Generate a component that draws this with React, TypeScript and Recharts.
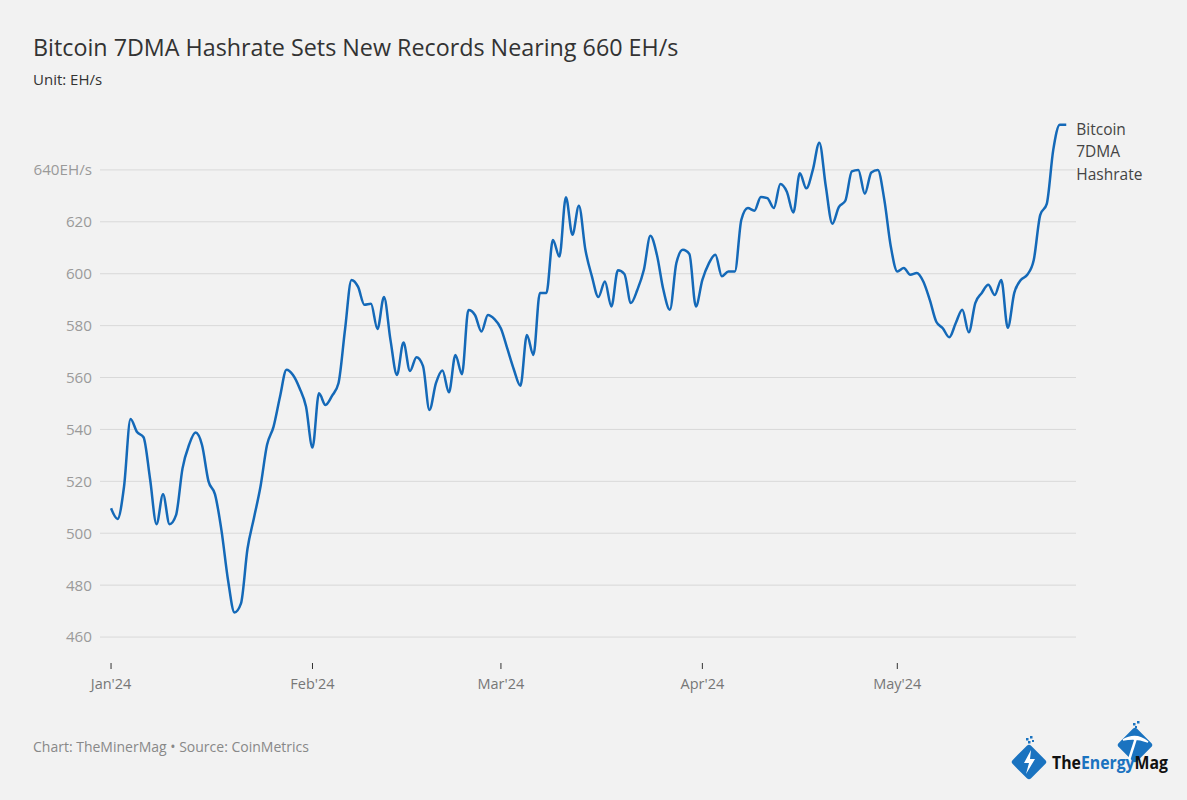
import React from 'react';
import { LineChart, Line, XAxis, YAxis, CartesianGrid } from 'recharts';

// Daily 7DMA hashrate (EH/s)
const JAN = [509.6, 505.5, 518, 544, 539, 537, 521, 503.5, 515, 503.5, 507, 525, 534, 538.8, 534, 520, 515, 501, 482, 469.5, 473, 494, 506, 518, 534, 541, 552.6, 563, 561, 556, 548.8];
const FEB = [533, 553.9, 549.4, 552.9, 557.8, 578.3, 597.6, 595, 588, 588.4, 578.7, 591, 574.5, 561, 573.5, 562.5, 567.8, 564.5, 547.5, 557.8, 562.7, 554.3, 568.7, 561.3, 586, 584.1, 577.7, 584.1, 582.5];
const MAR = [578.9, 571, 563, 556.8, 576.4, 568.7, 592.6, 592.6, 613, 606.6, 629.5, 615, 626.2, 609.2, 599, 591, 597, 587.4, 601.3, 599.9, 588.7, 593.8, 601.5, 614.6, 607.3, 593.8, 586.1, 604.1, 609.2, 607.6, 587.4];
const APR = [597.6, 604, 607.3, 599, 600.9, 600.9, 620.8, 625.3, 624.3, 629.6, 629.1, 625.3, 634.6, 631.6, 623.6, 638.7, 632.9, 640, 650.5, 633.6, 619.3, 625.7, 628.1, 639.4, 640, 630.8, 639, 640, 628.5, 610.5];
const MAY = [600.9, 602.2, 599.6, 600.3, 597, 589.9, 581.5, 579, 575.5, 581, 586.1, 577.4, 588.7, 592.6, 595.7, 591.8, 597.6, 579.2, 592.6, 597.6, 599.6, 605.3, 622.7, 626.9, 647.7, 657.4, 657.4];

const MONTH_LABELS = ["Jan'24", "Feb'24", "Mar'24", "Apr'24", "May'24"];
const MONTH_START_DAYS = [0, 31, 60, 91, 121];
const Y_TICKS = [460, 480, 500, 520, 540, 560, 580, 600, 620, 640];
const SERIES_NAME = ['Bitcoin', '7DMA', 'Hashrate'];

const values = [...JAN, ...FEB, ...MAR, ...APR, ...MAY];
const data = values.map((v, i) => ({ day: i, hashrate: v }));
const lastIndex = data.length - 1;

const FONT = '"Open Sans", "Noto Sans", sans-serif';
const BLUE = '#1469b8';

function EndLabel(props: any) {
  const { x, y, index } = props;
  if (index !== lastIndex) return null;
  return (
    <text x={x + 10} y={y + 10} fill="#444" fontSize={15.5} fontFamily={FONT}>
      {SERIES_NAME.map((w, i) => (
        <tspan key={w} x={x + 10} dy={i === 0 ? 0 : 22.5}>{w}</tspan>
      ))}
    </text>
  );
}

function Logo() {
  return (
    <svg width={175} height={70} style={{ position: 'absolute', left: 1005, top: 720 }}>
      {/* lightning diamond */}
      <rect x={11} y={29} width={26} height={26} rx={3} fill="#1a73c0" transform="rotate(45 24 42)" />
      <path d="M26 30 L19 43 L24 43 L21 54 L30 39 L25 39 Z" fill="#fff" />
      <rect x={21} y={18} width={2.5} height={2.5} fill="#1a73c0" />
      <rect x={25} y={16} width={2.5} height={2.5} fill="#1a73c0" />
      <rect x={23} y={21} width={2.5} height={2.5} fill="#1a73c0" />
      <rect x={27} y={20} width={2} height={2} fill="#1a73c0" />
      {/* pickaxe diamond */}
      <rect x={117} y={12} width={26} height={26} rx={3} fill="#1a73c0" transform="rotate(45 130 25)" />
      <path d="M118 20 Q131 12 143 22 Q131 17 118 20 Z" fill="#fff" stroke="#fff" strokeWidth={1.5} />
      <path d="M131 18 L124 40" stroke="#fff" strokeWidth={2.5} />
      <rect x={128} y={3} width={2.5} height={2.5} fill="#1a73c0" />
      <rect x={132} y={1} width={2.5} height={2.5} fill="#1a73c0" />
      <rect x={130} y={6} width={2} height={2} fill="#1a73c0" />
      <text x={47} y={49} fontSize={18} fontWeight={700} fontFamily={FONT} textLength={116} lengthAdjust="spacingAndGlyphs">
        <tspan fill="#111">The</tspan>
        <tspan fill="#1a73c0">Energy</tspan>
        <tspan fill="#111">Mag</tspan>
      </text>
    </svg>
  );
}

export default function App() {
  return (
    <div style={{ position: 'absolute', left: 0, top: 0, width: 1187, height: 800, background: '#f2f2f2', fontFamily: FONT }}>
      <div style={{ position: 'absolute', left: 33, top: 31, fontSize: 23.3, lineHeight: '32px', color: '#333' }}>
        Bitcoin 7DMA Hashrate Sets New Records Nearing 660 EH/s
      </div>
      <div style={{ position: 'absolute', left: 33, top: 69, fontSize: 15, lineHeight: '20px', color: '#333' }}>
        Unit: EH/s
      </div>

      <LineChart
        width={1187}
        height={800}
        data={data}
        margin={{ top: 118, right: 111, bottom: 107, left: 0 }}
      >
        <CartesianGrid vertical={false} horizontalValues={Y_TICKS} stroke="#d9d9d9" strokeWidth={1} />
        <XAxis
          dataKey="day"
          type="number"
          domain={[-1.7, 148.5]}
          ticks={MONTH_START_DAYS}
          tickFormatter={(d: number) => MONTH_LABELS[MONTH_START_DAYS.indexOf(d)]}
          axisLine={false}
          tickLine={{ stroke: '#333' }}
          tickSize={6}
          tickMargin={10}
          height={30}
          tick={{ fill: '#777', fontSize: 14.5, fontFamily: FONT }}
        />
        <YAxis
          type="number"
          domain={[450, 660]}
          ticks={Y_TICKS}
          tickFormatter={(v: number) => (v === 640 ? '640EH/s' : String(v))}
          axisLine={false}
          tickLine={false}
          tickSize={0}
          tickMargin={8}
          width={100}
          tick={{ fill: '#9a9a9a', fontSize: 15.2, fontFamily: FONT }}
        />
        <Line
          type="monotone"
          dataKey="hashrate"
          stroke={BLUE}
          strokeWidth={2.5}
          dot={false}
          isAnimationActive={false}
          label={<EndLabel />}
        />
      </LineChart>

      <div style={{ position: 'absolute', left: 33, top: 737, fontSize: 14, lineHeight: '19px', color: '#888' }}>
        Chart: TheMinerMag • Source: CoinMetrics
      </div>
      <Logo />
    </div>
  );
}
